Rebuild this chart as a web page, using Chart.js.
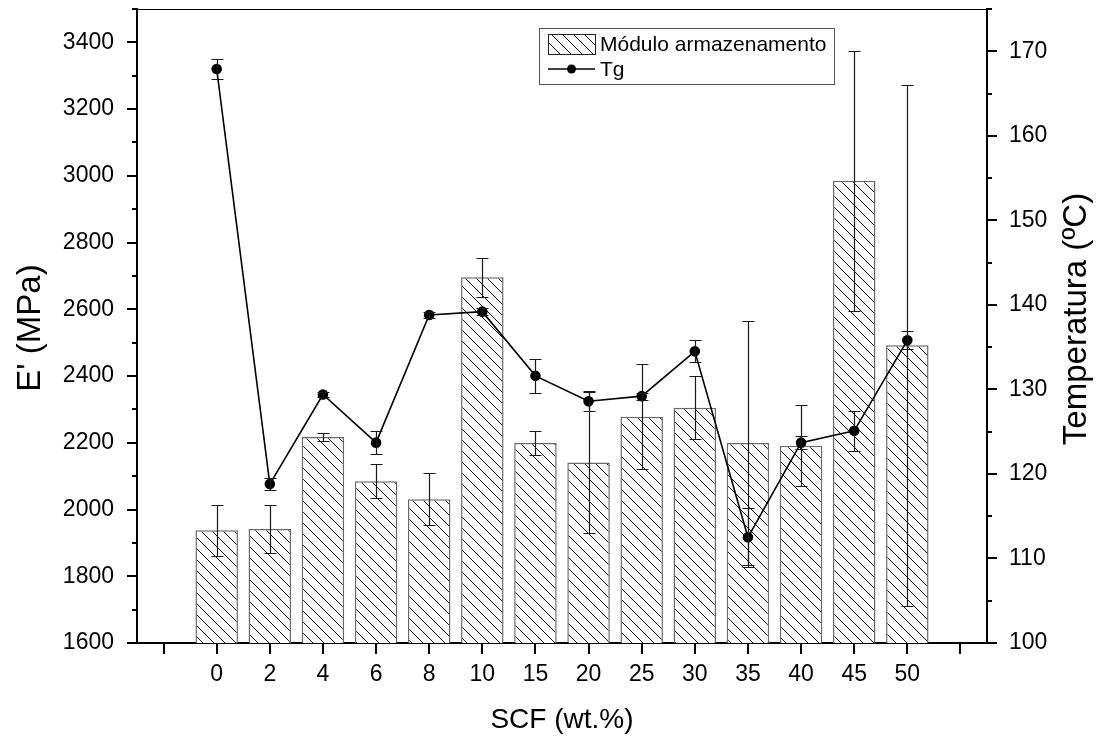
<!DOCTYPE html>
<html>
<head>
<meta charset="utf-8">
<script src="https://cdn.jsdelivr.net/npm/chart.js@4/dist/chart.umd.min.js"></script>
<style>
  html, body { margin: 0; padding: 0; background: #fff; }
  #wrap { width: 1099px; height: 742px; }
</style>
</head>
<body>
<div id="wrap"><canvas id="c" width="1099" height="742"></canvas></div>
<script>
// SCF content (wt.%)
const categories = ['0', '2', '4', '6', '8', '10', '15', '20', '25', '30', '35', '40', '45', '50'];
// Storage modulus E' (MPa) and its deviation
const storageModulus = [1938, 1942, 2217, 2085, 2031, 2696, 2199, 2141, 2278, 2305, 2199, 2191, 2985, 2492];
const storageModulusErr = [76, 71, 13, 50, 77, 58, 35, 211, 157, 95, 366, 121, 390, 781];
// Glass transition temperature Tg (ºC) and its deviation
const tg = [167.9, 118.8, 129.4, 123.7, 138.8, 139.2, 131.6, 128.6, 129.2, 134.5, 112.5, 123.7, 125.1, 135.8];
const tgErr = [1.2, 0.7, 0.3, 1.4, 0.3, 0.4, 2.0, 1.2, 0.4, 1.3, 3.5, 0.8, 2.4, 1.05];
// Axis ranges
const leftRange = [1600, 3500];
const rightRange = [100, 175];

const FONT = "'Liberation Sans', Arial, Helvetica, sans-serif";

// empty slot on each side of the category axis
const labels = [''].concat(categories, ['']);
const pad = arr => [null].concat(arr, [null]);

function makeHatch() {
  const s = 11;
  const c = document.createElement('canvas');
  c.width = s; c.height = s;
  const g = c.getContext('2d');
  g.fillStyle = '#fff';
  g.fillRect(0, 0, s, s);
  g.strokeStyle = '#111';
  g.lineWidth = 1;
  g.beginPath();
  g.moveTo(0, 0); g.lineTo(s, s);
  g.moveTo(-1, s - 1); g.lineTo(1, s + 1);
  g.moveTo(s - 1, -1); g.lineTo(s + 1, 1);
  g.stroke();
  return g.createPattern(c, 'repeat');
}
const hatch = makeHatch();

const errorBars = {
  id: 'errorBars',
  afterDatasetDraw(chart, args) {
    const ds = chart.data.datasets[args.index];
    if (!ds.errors) return;
    const meta = args.meta;
    const yScale = chart.scales[meta.yAxisID];
    const ctx = chart.ctx;
    ctx.save();
    ctx.strokeStyle = '#1a1a1a';
    ctx.lineWidth = 1.2;
    meta.data.forEach((el, i) => {
      const v = ds.data[i];
      const e = ds.errors[i];
      if (v == null || e == null) return;
      const x = Math.round(el.x) + 0.5;
      const yt = Math.round(yScale.getPixelForValue(v + e)) + 0.5;
      const yb = Math.round(yScale.getPixelForValue(v - e)) + 0.5;
      ctx.beginPath();
      ctx.moveTo(x, yt); ctx.lineTo(x, yb);
      ctx.moveTo(x - 6, yt); ctx.lineTo(x + 6, yt);
      ctx.moveTo(x - 6, yb); ctx.lineTo(x + 6, yb);
      ctx.stroke();
    });
    ctx.restore();
  }
};

const frame = {
  id: 'frame',
  afterDraw(chart) {
    const { ctx, chartArea: a, scales } = chart;
    ctx.save();
    ctx.strokeStyle = '#000';
    // top frame line
    ctx.lineWidth = 1;
    ctx.beginPath();
    ctx.moveTo(a.left, a.top + 0.5); ctx.lineTo(a.right, a.top + 0.5);
    ctx.stroke();
    // tick marks
    ctx.lineWidth = 2;
    ctx.beginPath();
    for (let v = leftRange[0]; v <= leftRange[1]; v += 100) {
      const y = Math.round(scales.y.getPixelForValue(v));
      const len = v % 200 === 0 ? 10 : 5;
      ctx.moveTo(a.left, y); ctx.lineTo(a.left - len, y);
    }
    for (let v = rightRange[0]; v <= rightRange[1]; v += 5) {
      const y = Math.round(scales.y1.getPixelForValue(v));
      const len = v % 10 === 0 ? 10 : 5;
      ctx.moveTo(a.right, y); ctx.lineTo(a.right + len, y);
    }
    for (let i = 0; i < labels.length; i++) {
      const x = Math.round(scales.x.getPixelForValue(i));
      ctx.moveTo(x, a.bottom); ctx.lineTo(x, a.bottom + 11);
    }
    ctx.stroke();

    // axis titles
    ctx.fillStyle = '#000';
    ctx.textAlign = 'center';
    ctx.textBaseline = 'middle';
    const cy = (a.top + a.bottom) / 2;
    ctx.font = '33px ' + FONT;
    ctx.save();
    ctx.translate(31, cy + 2);
    ctx.rotate(-Math.PI / 2);
    ctx.fillText("E' (MPa)", 0, 0);
    ctx.restore();
    ctx.save();
    ctx.translate(1077, cy - 7);
    ctx.rotate(-Math.PI / 2);
    ctx.fillText('Temperatura (ºC)', 0, 0);
    ctx.restore();
    ctx.font = '28px ' + FONT;
    ctx.fillText('SCF (wt.%)', (a.left + a.right) / 2, 720);

    // legend
    const lx = 539, ly = 28, lw = 295, lh = 56;
    ctx.fillStyle = '#fff';
    ctx.fillRect(lx, ly, lw, lh);
    ctx.strokeStyle = '#555';
    ctx.lineWidth = 1;
    ctx.strokeRect(lx + 0.5, ly + 0.5, lw, lh);
    ctx.fillStyle = hatch;
    ctx.fillRect(548, 34, 47, 20);
    ctx.strokeStyle = '#222';
    ctx.strokeRect(548.5, 34.5, 47, 20);
    ctx.strokeStyle = '#000';
    ctx.lineWidth = 1.5;
    ctx.beginPath();
    ctx.moveTo(548, 69); ctx.lineTo(595, 69);
    ctx.stroke();
    ctx.fillStyle = '#000';
    ctx.beginPath();
    ctx.arc(571.5, 69, 4.5, 0, Math.PI * 2);
    ctx.fill();
    ctx.font = '21px ' + FONT;
    ctx.textAlign = 'left';
    ctx.fillText('Módulo armazenamento', 600, 45);
    ctx.fillText('Tg', 600, 70);
    ctx.restore();
  }
};

// keep the plot box fixed: no extra room for overhanging tick labels
const noPad = s => { s.paddingTop = 0; s.paddingBottom = 0; s.paddingLeft = 0; s.paddingRight = 0; };

new Chart(document.getElementById('c'), {
  type: 'bar',
  data: {
    labels: labels,
    datasets: [
      {
        type: 'line',
        label: 'Tg',
        data: pad(tg),
        errors: pad(tgErr),
        yAxisID: 'y1',
        borderColor: '#000',
        borderWidth: 1.6,
        pointRadius: 4.5,
        pointBackgroundColor: '#000',
        pointBorderColor: '#000',
        tension: 0,
        order: 0
      },
      {
        type: 'bar',
        label: 'Módulo armazenamento',
        data: pad(storageModulus),
        errors: pad(storageModulusErr),
        yAxisID: 'y',
        backgroundColor: hatch,
        borderColor: '#6a6a6a',
        borderWidth: 1.5,
        barPercentage: 0.8,
        categoryPercentage: 1.0,
        order: 1
      }
    ]
  },
  options: {
    responsive: false,
    animation: false,
    events: [],
    layout: { padding: { top: 9, left: 0, right: 0, bottom: 0 }, autoPadding: false },
    plugins: { legend: { display: false }, tooltip: { enabled: false } },
    scales: {
      x: {
        type: 'category',
        offset: true,
        grid: { display: false, drawTicks: false },
        border: { display: true, color: '#000', width: 2 },
        ticks: {
          color: '#000', font: { family: FONT, size: 23 }, padding: 18,
          maxRotation: 0, autoSkip: false
        },
        afterFit: s => { s.height = 99; noPad(s); }
      },
      y: {
        position: 'left',
        min: leftRange[0], max: leftRange[1],
        grid: { display: false, drawTicks: false },
        border: { display: true, color: '#000', width: 2 },
        ticks: {
          stepSize: 100, color: '#000', font: { family: FONT, size: 23 }, padding: 23,
          callback: v => (Math.round(v) % 200 === 0 ? String(Math.round(v)) : '')
        },
        afterFit: s => { s.width = 137; noPad(s); }
      },
      y1: {
        position: 'right',
        min: rightRange[0], max: rightRange[1],
        grid: { display: false, drawTicks: false },
        border: { display: true, color: '#000', width: 2 },
        ticks: {
          stepSize: 5, color: '#000', font: { family: FONT, size: 23 }, padding: 22,
          callback: v => (Math.round(v) % 10 === 0 ? String(Math.round(v)) : '')
        },
        afterFit: s => { s.width = 112; noPad(s); }
      }
    }
  },
  plugins: [errorBars, frame]
});
</script>
</body>
</html>
